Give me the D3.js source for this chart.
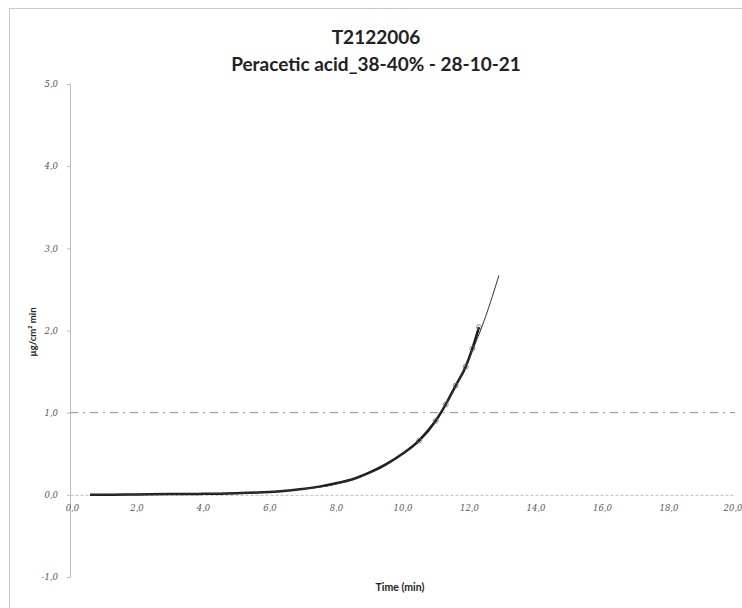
<!DOCTYPE html>
<html>
<head>
<meta charset="utf-8">
<script src="https://cdn.jsdelivr.net/npm/d3@7"></script>
<style>
  body { margin: 0; background: #fff; }
  svg { display: block; }
</style>
</head>
<body>
<svg id="chart"></svg>
<script>
const width = 742;
const height = 608;

// measured release (µg/cm² min) vs time (min)
const measuredTime = [0.6, 1.0, 2.0, 3.0, 4.0, 5.0, 6.0, 6.5, 7.0, 7.5, 8.0, 8.5, 9.0, 9.5, 10.0, 10.5, 11.0, 11.3, 11.6, 11.9, 12.1, 12.3];
const measuredValue = [0.0, 0.0, 0.005, 0.01, 0.012, 0.02, 0.035, 0.05, 0.07, 0.1, 0.14, 0.19, 0.27, 0.37, 0.5, 0.66, 0.9, 1.1, 1.33, 1.56, 1.78, 2.04];

// trend line drawn over it
const trendTime = [0.6, 2.0, 4.0, 5.0, 6.0, 7.0, 8.0, 8.5, 9.0, 9.5, 10.0, 10.5, 11.0, 11.5, 12.0, 12.5, 12.9];
const trendValue = [0.0, 0.004, 0.012, 0.02, 0.035, 0.07, 0.13, 0.19, 0.26, 0.36, 0.5, 0.68, 0.92, 1.24, 1.66, 2.17, 2.67];

const xTicks = [0, 2, 4, 6, 8, 10, 12, 14, 16, 18, 20];
const yTicks = [-1, 0, 1, 2, 3, 4, 5];
const limitValue = 1.0;

const titleLines = ["T2122006", "Peracetic acid_38-40% - 28-10-21"];
const xLabel = "Time (min)";
const yLabel = "µg/cm² min";

const svg = d3.select("#chart")
  .attr("width", width)
  .attr("height", height);

const x = d3.scaleLinear().domain([0, 20]).range([70, 735]);
const y = d3.scaleLinear().domain([-1, 5]).range([577, 84]);

const fmt = d => d.toFixed(1).replace(".", ",");

// outer frame of the chart area
svg.append("rect")
  .attr("x", 9.5).attr("y", 8.5)
  .attr("width", width + 10).attr("height", height + 10)
  .attr("fill", "none")
  .attr("stroke", "#c8c8c8");

// titles
svg.selectAll("text.title")
  .data(titleLines)
  .enter()
  .append("text")
  .attr("class", "title")
  .attr("x", 376)
  .attr("y", (d, i) => 44 + i * 27)
  .attr("text-anchor", "middle")
  .attr("font-family", "Lato, 'Open Sans', sans-serif")
  .attr("font-weight", "bold")
  .attr("font-size", 19)
  .attr("fill", "#222")
  .text(d => d);

// y axis
const yAxis = svg.append("g")
  .attr("transform", `translate(${x(0)},0)`)
  .call(d3.axisLeft(y).tickValues(yTicks).tickFormat(fmt).tickSize(3).tickPadding(9));

// x axis sits on zero
const xAxis = svg.append("g")
  .attr("transform", `translate(0,${y(0)})`)
  .call(d3.axisBottom(x).tickValues(xTicks).tickFormat(fmt).tickSize(0).tickPadding(10));

[yAxis, xAxis].forEach(g => {
  g.select(".domain").attr("stroke", "#bdbdbd");
  g.selectAll(".tick line").attr("stroke", "#bdbdbd");
  g.selectAll(".tick text")
    .attr("font-family", "'DejaVu Serif', serif")
    .attr("font-style", "italic")
    .attr("font-size", 8.5)
    .attr("fill", "#555");
});
xAxis.select(".domain").attr("stroke-dasharray", "3,2");
// end labels nudged to stay inside the frame
xAxis.selectAll(".tick text").filter(d => d === 0).attr("dx", 2);
xAxis.selectAll(".tick text").filter(d => d === 20).attr("text-anchor", "end").attr("dx", 7);

// limit line at 1,0
svg.append("line")
  .attr("x1", x(0)).attr("x2", x(20))
  .attr("y1", y(limitValue)).attr("y2", y(limitValue))
  .attr("stroke", "#8a8a8a")
  .attr("stroke-width", 1)
  .attr("stroke-dasharray", "8,5,2,5");

const line = d3.line()
  .x(d => x(d[0]))
  .y(d => y(d[1]))
  .curve(d3.curveMonotoneX);

// measured series
svg.append("path")
  .datum(d3.zip(measuredTime, measuredValue))
  .attr("fill", "none")
  .attr("stroke", "#1a1a1a")
  .attr("stroke-width", 2.5)
  .attr("d", line);

svg.selectAll("circle.pt")
  .data(d3.zip(measuredTime, measuredValue).filter(d => d[0] >= 10.5))
  .enter()
  .append("circle")
  .attr("class", "pt")
  .attr("cx", d => x(d[0]))
  .attr("cy", d => y(d[1]))
  .attr("r", 2.5)
  .attr("fill", "none")
  .attr("stroke", "#777")
  .attr("stroke-width", 0.8);

// trend line
svg.append("path")
  .datum(d3.zip(trendTime, trendValue))
  .attr("fill", "none")
  .attr("stroke", "#333")
  .attr("stroke-width", 1)
  .attr("d", line);

// axis titles
svg.append("text")
  .attr("x", 400).attr("y", 591)
  .attr("text-anchor", "middle")
  .attr("font-family", "Lato, sans-serif")
  .attr("font-weight", "bold")
  .attr("font-size", 10.5)
  .attr("fill", "#222")
  .text(xLabel);

svg.append("text")
  .attr("transform", "translate(36,332) rotate(-90)")
  .attr("text-anchor", "middle")
  .attr("font-family", "Lato, sans-serif")
  .attr("font-weight", "bold")
  .attr("font-size", 9.5)
  .attr("fill", "#222")
  .text(yLabel);
</script>
</body>
</html>
